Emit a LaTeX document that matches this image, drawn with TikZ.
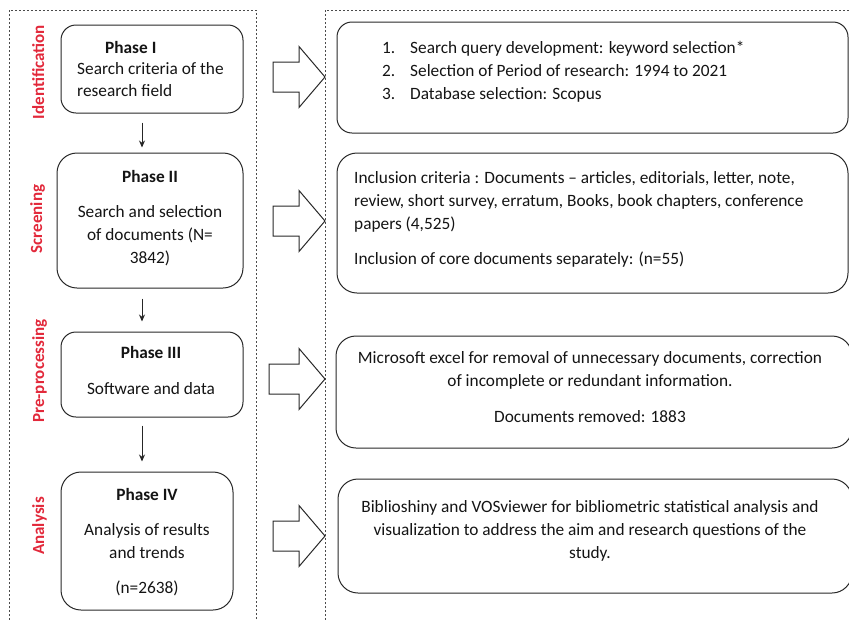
\documentclass[tikz,border=0pt]{standalone}
\usepackage{fontspec}
\setmainfont{Carlito}
\usetikzlibrary{arrows.meta}
\definecolor{phasered}{RGB}{226,40,58}
\definecolor{inkgray}{RGB}{40,40,40}
\definecolor{framegray}{RGB}{75,75,75}
\newcommand\blkarrow[4]{% name, x start, x tip, y centre
  \draw[blockarr] ({#2},{#4-15}) coordinate (#1) -- ({#3-26},{#4-15}) -- ({#3-26},{#4-30.5})
    -- ({#3},{#4}) -- ({#3-26},{#4+30.5}) -- ({#3-26},{#4+15}) -- ({#2},{#4+15}) -- cycle;}
\begin{document}
\begin{tikzpicture}[x=1pt,y=-1pt,
  frame/.style={draw=framegray, line width=0.9pt, dash pattern=on 2.4pt off 1.6pt},
  box/.style={draw=inkgray, line width=1pt, rounded corners=15pt, inner sep=0pt},
  txt/.style={font=\fontsize{17.3}{23}\selectfont, text=black!92, inner sep=0pt},
  stage/.style={rotate=90, anchor=base, text=phasered, inner sep=0pt,
    font=\fontsize{17}{20}\selectfont\bfseries},
  flow/.style={draw=black!85, line width=1pt, -{Stealth[length=7pt,width=6pt]}},
  blockarr/.style={draw=inkgray, line width=1pt, fill=white, line join=miter}
]
\useasboundingbox (0,0) rectangle (849,619);
\clip (0,0) rectangle (849,619);

% dashed frames
\draw[frame] (9,660) -- (9,10) -- (256,10) -- (256,660);
\draw[frame] (325,660) -- (325,10) -- (900,10);

% stage labels
\node[stage] (s1) at (44,72) {Identification};
\node[stage] (s2) at (42,219) {Screening};
\node[stage] (s3) at (44,371) {Pre-processing};
\node[stage] (s4) at (44,526) {Analysis};

% left phase boxes
\node[box, minimum width=182pt, minimum height=88pt] (p1) at (152,69) {};
\node[box, minimum width=186pt, minimum height=135pt, rounded corners=20pt] (p2) at (150,220.5) {};
\node[box, minimum width=182pt, minimum height=85pt] (p3) at (152,374.5) {};
\node[box, minimum width=172pt, minimum height=138pt, rounded corners=20pt] (p4) at (147,541) {};

% (anchor base = baseline of the last line)
\node[txt, anchor=base west, align=left, font=\fontsize{17.3}{21.5}\selectfont] (t1) at (77,96)
  {\hspace{28pt}\textbf{Phase I}\\Search criteria of the\\research field};
\node[txt, anchor=base, align=center] (t2) at (150,263)
  {\textbf{Phase II}\\[12pt]Search and selection\\of documents (N=\\3842)};
\node[txt, anchor=base, align=center] (t3) at (151,394)
  {\textbf{Phase III}\\[13pt]Software and data};
\node[txt, anchor=base, align=center] (t4) at (147,593)
  {\textbf{Phase IV}\\[12pt]Analysis of results\\and trends\\[12pt](n=2638)};

% vertical connectors
\coordinate (ax) at (142,0);
\draw[flow, shorten <=9pt, shorten >=5pt] (p1.south -| ax) -- (p2.north -| ax);
\draw[flow, shorten <=10pt, shorten >=10pt] (p2.south -| ax) -- (p3.north -| ax);
\draw[flow, shorten <=8pt, shorten >=10pt] (p3.south -| ax) -- (p4.north -| ax);

% right boxes
\node[box, minimum width=511pt, minimum height=111pt] (r1) at (592.5,77.5) {};
\node[box, minimum width=511pt, minimum height=140pt, rounded corners=20pt] (r2) at (592.5,223) {};
\node[box, minimum width=516pt, minimum height=112pt, rounded corners=20pt] (r3) at (594,392) {};
\node[box, minimum width=514pt, minimum height=114pt, rounded corners=20pt] (r4) at (595,536) {};

\node[txt, anchor=base west, align=left] (u1) at (382,99)
  {\makebox[28pt][l]{1.}Search query development: keyword selection*\\
   \makebox[28pt][l]{2.}Selection of Period of research: 1994 to 2021\\
   \makebox[28pt][l]{3.}Database selection: Scopus};
\node[txt, anchor=base west, align=left] (u2) at (354,264)
  {Inclusion criteria : Documents -- articles, editorials, letter, note,\\
   review, short survey, erratum, Books, book chapters, conference\\
   papers (4,525)\\[12pt]
   Inclusion of core documents separately: (n=55)};
\node[txt, anchor=base, align=center] (u3) at (590,422)
  {Microsoft excel for removal of unnecessary documents, correction\\
   of incomplete or redundant information.\\[13pt]
   Documents removed: 1883};
\node[txt, anchor=base, align=center] (u4) at (590,558)
  {Biblioshiny and VOSviewer for bibliometric statistical analysis and\\
   visualization to address the aim and research questions of the\\
   study.};

% block arrows
\blkarrow{a1}{273}{325}{77}
\blkarrow{a2}{273}{325}{221}
\blkarrow{a3}{269}{325}{379}
\blkarrow{a4}{273}{325}{536}
\end{tikzpicture}
\end{document}
